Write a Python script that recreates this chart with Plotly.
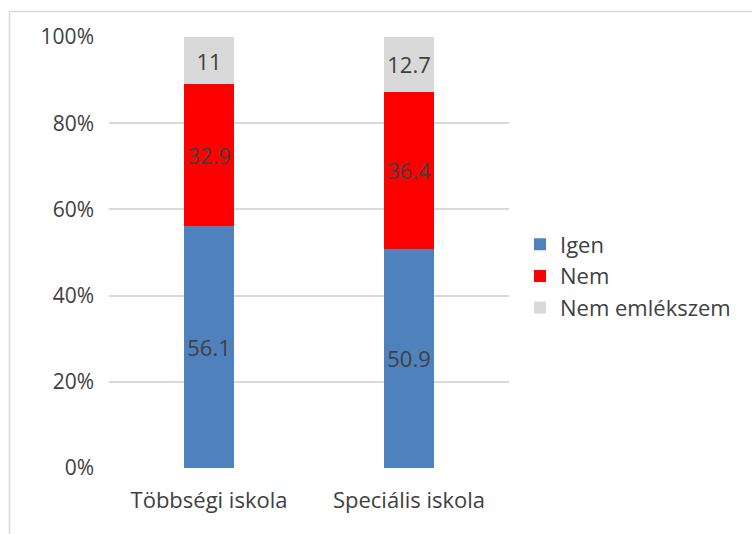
import plotly.graph_objects as go

categories = ["Többségi iskola", "Speciális iskola"]
igen = [56.1, 50.9]
nem = [32.9, 36.4]
nem_emlekszem = [11, 12.7]
series_names = ["Igen", "Nem", "Nem emlékszem"]
colors = ["#4f81bd", "#ff0000", "#d9d9d9"]
y_ticks = [0, 20, 40, 60, 80, 100]
y_tick_labels = ["0%", "20%", "40%", "60%", "80%", "100%"]

FONT = "Open Sans"
FS = 21
fig = go.Figure()
for name, vals, col in zip(series_names, [igen, nem, nem_emlekszem], colors):
    fig.add_trace(go.Bar(
        x=categories, y=vals, name=name, marker=dict(color=col, line=dict(width=0)),
        text=[str(v) for v in vals], textposition="inside", insidetextanchor="middle",
        textfont=dict(family=FONT, size=22, color="#404040"), textangle=0,
        constraintext="none",
    ))

L, R, T, B = 109, 243, 37, 66
W, H = 752, 534
pw, ph = W - L - R, H - T - B

def px_x(p):
    return (p - L) / pw

def px_y(p):
    return (H - B - p) / ph

fig.update_layout(
    barmode="stack", bargap=0.75,
    width=W, height=H, margin=dict(l=L, r=R, t=T, b=B, pad=0),
    paper_bgcolor="white", plot_bgcolor="white",
    font=dict(family=FONT, size=FS, color="#404040"),
    uniformtext=dict(mode=False),
    xaxis=dict(showgrid=False, showline=False, ticks="", tickfont=dict(size=22, color="#404040"),
               ticklabelstandoff=17),
    yaxis=dict(range=[0, 100], tickvals=y_ticks, ticktext=y_tick_labels, showgrid=True,
               gridcolor="#d9d9d9", gridwidth=2, zeroline=False, showline=False, ticks="",
               tickfont=dict(size=FS, color="#404040"), ticklabelstandoff=14),
    legend=dict(x=px_x(520), y=px_y(276), xanchor="left", yanchor="middle",
                traceorder="normal",
                font=dict(size=22, color="#404040"), itemsizing="constant",
                tracegroupgap=0, bgcolor="rgba(0,0,0,0)"),
    shapes=[dict(type="rect", xref="paper", yref="paper",
                 x0=px_x(9.5), x1=px_x(770), y0=px_y(560), y1=px_y(11.5),
                 line=dict(color="#d9d9d9", width=1.5), layer="below")],
)
fig.write_html("out.html")
